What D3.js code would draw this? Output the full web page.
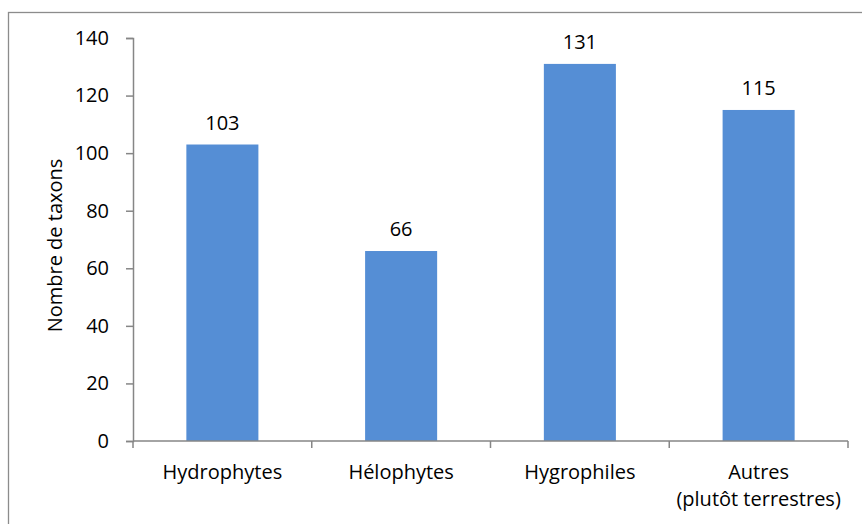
<!DOCTYPE html>
<html>
<head>
<meta charset="utf-8">
<script src="https://cdn.jsdelivr.net/npm/d3@7"></script>
<style>
  body { margin: 0; background: #fff; }
  svg text { font-family: "Open Sans", Lato, sans-serif; fill: #000; }
</style>
</head>
<body>
<div id="chart"></div>
<script>
"use strict"

// data
var categories = ['Hydrophytes', 'Hélophytes', 'Hygrophiles', 'Autres|(plutôt terrestres)'];
var taxonCounts = [103, 66, 131, 115];
var yTicks = [0, 20, 40, 60, 80, 100, 120, 140];
var yTitle = 'Nombre de taxons';

var width = 862, height = 524;
var plot = {left: 133, right: 848, top: 38, bottom: 441};
var axisColor = '#868686';

var svg = d3.select('#chart')
    .append('svg')
    .attr('width', width)
    .attr('height', height);

// chart frame (runs off the right and bottom of the picture)
svg.append('rect')
    .attr('x', 8.5)
    .attr('y', 12.5)
    .attr('width', 900)
    .attr('height', 600)
    .attr('fill', 'none')
    .attr('stroke', '#8c8c8c')
    .attr('stroke-width', 1.3);

var x = d3.scaleBand()
    .domain(categories)
    .range([plot.left, plot.right])
    .paddingInner(0.597)
    .paddingOuter(0.2985);

var y = d3.scaleLinear()
    .domain([0, 140])
    .range([plot.bottom, plot.top]);

// y axis
var yAxis = svg.append('g')
    .attr('transform', 'translate(' + plot.left + ',0)')
    .call(d3.axisLeft(y).tickValues(yTicks).tickSize(7).tickPadding(17));
yAxis.selectAll('path, line').attr('stroke', axisColor).attr('stroke-width', 1.5);
yAxis.selectAll('text').style('font-size', '20px').attr('fill', '#000');

// bars
svg.selectAll('rect.bar')
    .data(taxonCounts)
    .enter()
    .append('rect')
    .attr('class', 'bar')
    .attr('x', function(d, i) { return x(categories[i]); })
    .attr('y', function(d) { return y(d); })
    .attr('width', x.bandwidth())
    .attr('height', function(d) { return y(0) - y(d); })
    .attr('fill', '#558ed5');

// value labels
svg.selectAll('text.value')
    .data(taxonCounts)
    .enter()
    .append('text')
    .attr('class', 'value')
    .attr('x', function(d, i) { return x(categories[i]) + x.bandwidth() / 2; })
    .attr('y', function(d) { return y(d) - 15; })
    .attr('text-anchor', 'middle')
    .style('font-size', '20px')
    .text(function(d) { return d; });

// x axis: line with ticks at the category boundaries
var step = x.step();
var xAxis = svg.append('g');
xAxis.append('line')
    .attr('x1', plot.left).attr('x2', plot.right)
    .attr('y1', y(0)).attr('y2', y(0))
    .attr('stroke', axisColor).attr('stroke-width', 1.5);
xAxis.selectAll('line.tick')
    .data(d3.range(categories.length + 1))
    .enter()
    .append('line')
    .attr('class', 'tick')
    .attr('x1', function(i) { return plot.left + i * step; })
    .attr('x2', function(i) { return plot.left + i * step; })
    .attr('y1', y(0))
    .attr('y2', y(0) + 7)
    .attr('stroke', axisColor).attr('stroke-width', 1.5);

// category labels, split on '|'
xAxis.selectAll('text.cat')
    .data(categories)
    .enter()
    .append('text')
    .attr('class', 'cat')
    .attr('text-anchor', 'middle')
    .style('font-size', '20px')
    .each(function(c) {
        var lines = c.split('|');
        var cx = x(c) + x.bandwidth() / 2;
        d3.select(this).selectAll('tspan')
            .data(lines)
            .enter()
            .append('tspan')
            .attr('x', cx)
            .attr('y', function(l, j) { return 479 + j * 27; })
            .text(function(l) { return l; });
    });

// y title
svg.append('text')
    .attr('transform', 'translate(62,' + ((plot.top + plot.bottom) / 2 + 6) + ') rotate(-90)')
    .attr('text-anchor', 'middle')
    .style('font-size', '20px')
    .text(yTitle);
</script>
</body>
</html>
